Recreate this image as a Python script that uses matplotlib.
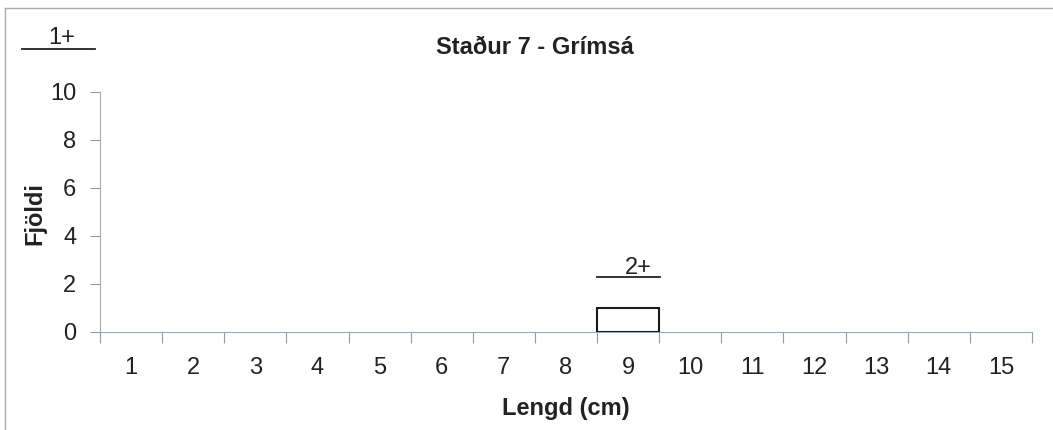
import matplotlib
matplotlib.use("Agg")
import matplotlib.pyplot as plt
import numpy as np

# data
lengths = list(range(1, 16))
counts = [0, 0, 0, 0, 0, 0, 0, 0, 1, 0, 0, 0, 0, 0, 0]
title = "Staður 7 - Grímsá"
age_label_top = "1+"
age_label_bar = "2+"
age_bar_pos = 9

plt.rcParams['font.family'] = ['Liberation Sans', 'DejaVu Sans']

fig = plt.figure(figsize=(10.53, 4.30), dpi=100)
ax = fig.add_axes([100 / 1053, 1 - 332 / 430, 932 / 1053, 240 / 430])

# empty classes get no outline
lw = [1.5 if c > 0 else 0 for c in counts]
ax.bar(lengths, counts, width=1.0, facecolor='white', edgecolor='#1a1a1a', linewidth=lw, zorder=3)

ax.set_xlim(0.5, 15.5)
ax.set_ylim(0, 10)
ax.set_yticks([0, 2, 4, 6, 8, 10])

# ticks between categories, labels at centres
ax.set_xticks(np.arange(0.5, 16, 1))
ax.set_xticklabels([])
ax.set_xticks(lengths, minor=True)
ax.set_xticklabels([str(v) for v in lengths], minor=True)
ax.tick_params(axis='x', which='minor', length=0, pad=18, labelsize=17, labelcolor='#222222')
ax.tick_params(axis='x', which='major', length=8, color='#999999', width=0.8)
ax.tick_params(axis='y', length=7, color='#999999', width=0.8, pad=10, labelsize=17, labelcolor='#222222')

for s in ['top', 'right']:
    ax.spines[s].set_visible(False)
ax.spines['left'].set_color('#aaaaaa')
ax.spines['bottom'].set_color('#99aabb')
ax.spines['left'].set_linewidth(0.8)
ax.spines['bottom'].set_linewidth(0.8)

ax.set_xlabel("Lengd (cm)", fontsize=17, fontweight='bold', color='#222222', labelpad=13)
fig.text(35 / 1053, 1 - 214 / 430, "Fjöldi", rotation=90, ha='center', va='center',
         fontsize=17, fontweight='bold', color='#222222')

fig.text(535 / 1053, 1 - 48 / 430, title, ha='center', va='center', fontsize=17,
         fontweight='bold', color='#222222')

# age group marks
fig.text(62 / 1053, 1 - 38 / 430, age_label_top, ha='center', va='center', fontsize=17, color='#222222')
fig.add_artist(plt.Line2D([22 / 1053, 95 / 1053], [1 - 49 / 430, 1 - 49 / 430],
                          color='#222222', linewidth=1.3))
ax.text(age_bar_pos + 0.17, 2.68, age_label_bar, ha='center', va='center', fontsize=17, color='#222222')
ax.plot([age_bar_pos - 0.5, age_bar_pos + 0.52], [2.28, 2.28], color='#222222', linewidth=1.3, clip_on=False)

# outer frame
fig.add_artist(plt.Line2D([5 / 1053, 5 / 1053], [0, 1 - 8 / 430], color='#aaaaaa', linewidth=1))
fig.add_artist(plt.Line2D([5 / 1053, 1052 / 1053], [1 - 8 / 430, 1 - 8 / 430], color='#aaaaaa', linewidth=1))

fig.savefig("out.png", dpi=100)
